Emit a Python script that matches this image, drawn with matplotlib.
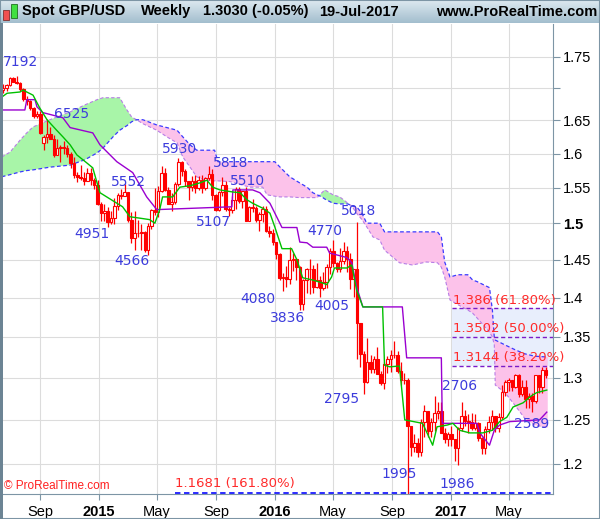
import datetime as dt
import numpy as np
import matplotlib
matplotlib.use('Agg')
import matplotlib.pyplot as plt
import matplotlib.dates as mdates
from matplotlib.patches import Rectangle

plt.rcParams['font.family'] = ['Liberation Sans', 'DejaVu Sans']

# weekly candles, GBP/USD, week of 16-Jun-2014 to week of 17-Jul-2017
first_week = dt.date(2014, 6, 16)

opens = [1.6975, 1.7010, 1.7045, 1.7155, 1.7105, 1.7080, 1.6985, 1.6830, 1.6795, 1.6695,
         1.6565, 1.6600, 1.6160, 1.6245, 1.6300, 1.6225, 1.5985, 1.6085, 1.6095, 1.6080,
         1.5995, 1.5860, 1.5685, 1.5655, 1.5640, 1.5600, 1.5715, 1.5620, 1.5545, 1.5275,
         1.5145, 1.5165, 1.5015, 1.5075, 1.5240, 1.5395, 1.5390, 1.5440, 1.5045, 1.4795,
         1.4870, 1.4865, 1.4880, 1.4630, 1.4965, 1.5185, 1.5155, 1.5450, 1.5715, 1.5465,
         1.5275, 1.5300, 1.5560, 1.5880, 1.5745, 1.5595, 1.5515, 1.5595, 1.5500, 1.5610,
         1.5495, 1.5640, 1.5700, 1.5395, 1.5185, 1.5440, 1.5540, 1.5195, 1.5185, 1.5320,
         1.5485, 1.5315, 1.5455, 1.5035, 1.5225, 1.5215, 1.5045, 1.5125, 1.5200, 1.4895,
         1.4865, 1.4735, 1.4575, 1.4255, 1.4265, 1.4250, 1.4500, 1.4505, 1.4400, 1.3920,
         1.4230, 1.4370, 1.4375, 1.4135, 1.4225, 1.4120, 1.4200, 1.4400, 1.4615, 1.4450,
         1.4375, 1.4490, 1.4620, 1.4515, 1.4250, 1.4370, 1.3680, 1.3285, 1.2950, 1.3195,
         1.3105, 1.3225, 1.3045, 1.2930, 1.3160, 1.3225, 1.3275, 1.3270, 1.3080, 1.2965,
         1.2975, 1.2430, 1.2195, 1.2230, 1.2130, 1.2480, 1.2600, 1.2375, 1.2480, 1.2575,
         1.2600, 1.2350, 1.2275, 1.2340, 1.2275, 1.2180, 1.2410, 1.2550, 1.2485, 1.2480,
         1.2410, 1.2460, 1.2290, 1.2175, 1.2400, 1.2475, 1.2550, 1.2410, 1.2535, 1.2830,
         1.2950, 1.2965, 1.2885, 1.3030, 1.2800, 1.2885, 1.2740, 1.2780, 1.2715, 1.3030,
         1.2885, 1.3090]
highs = [1.7063, 1.7065, 1.7180, 1.7178, 1.7192, 1.7095, 1.6995, 1.6880, 1.6810, 1.6710,
         1.6645, 1.6640, 1.6280, 1.6525, 1.6400, 1.6285, 1.6225, 1.6125, 1.6185, 1.6125,
         1.6025, 1.5945, 1.5735, 1.5825, 1.5735, 1.5785, 1.5785, 1.5645, 1.5620, 1.5295,
         1.5270, 1.5225, 1.5175, 1.5350, 1.5430, 1.5485, 1.5552, 1.5440, 1.5150, 1.5165,
         1.5050, 1.4995, 1.4890, 1.5000, 1.5200, 1.5500, 1.5525, 1.5815, 1.5790, 1.5510,
         1.5430, 1.5590, 1.5930, 1.5885, 1.5775, 1.5600, 1.5675, 1.5690, 1.5675, 1.5690,
         1.5655, 1.5818, 1.5770, 1.5405, 1.5455, 1.5660, 1.5595, 1.5225, 1.5385, 1.5510,
         1.5510, 1.5440, 1.5505, 1.5240, 1.5335, 1.5235, 1.5160, 1.5240, 1.5240, 1.4955,
         1.4915, 1.4745, 1.4590, 1.4325, 1.4415, 1.4670, 1.4590, 1.4525, 1.4410, 1.4245,
         1.4395, 1.4515, 1.4430, 1.4460, 1.4280, 1.4340, 1.4440, 1.4660, 1.4770, 1.4465,
         1.4660, 1.4735, 1.4680, 1.4590, 1.4380, 1.5018, 1.3680, 1.3325, 1.3480, 1.3275,
         1.3265, 1.3370, 1.3080, 1.3185, 1.3260, 1.3340, 1.3445, 1.3330, 1.3185, 1.3055,
         1.2990, 1.2435, 1.2340, 1.2295, 1.2510, 1.2670, 1.2600, 1.2520, 1.2775, 1.2705,
         1.2705, 1.2405, 1.2355, 1.2435, 1.2285, 1.2415, 1.2705, 1.2620, 1.2570, 1.2580,
         1.2570, 1.2470, 1.2305, 1.2430, 1.2540, 1.2615, 1.2550, 1.2580, 1.2905, 1.2965,
         1.2990, 1.2970, 1.3048, 1.3045, 1.2975, 1.2975, 1.2815, 1.2815, 1.3030, 1.3030,
         1.3125, 1.3125]
lows = [1.6925, 1.6960, 1.7030, 1.7095, 1.7065, 1.6960, 1.6800, 1.6735, 1.6660, 1.6535,
        1.6535, 1.6300, 1.6052, 1.6160, 1.6215, 1.5950, 1.5985, 1.5875, 1.5995, 1.5945,
        1.5790, 1.5645, 1.5590, 1.5620, 1.5540, 1.5600, 1.5540, 1.5485, 1.5255, 1.5035,
        1.5035, 1.4951, 1.4985, 1.4995, 1.5190, 1.5340, 1.5385, 1.5020, 1.4730, 1.4635,
        1.4810, 1.4635, 1.4600, 1.4566, 1.4925, 1.5115, 1.5090, 1.5445, 1.5450, 1.5265,
        1.5170, 1.5270, 1.5530, 1.5675, 1.5530, 1.5330, 1.5460, 1.5420, 1.5465, 1.5430,
        1.5470, 1.5615, 1.5330, 1.5165, 1.5165, 1.5380, 1.5175, 1.5107, 1.5140, 1.5200,
        1.5280, 1.5210, 1.5025, 1.5030, 1.5150, 1.5010, 1.4895, 1.5020, 1.4880, 1.4805,
        1.4700, 1.4515, 1.4235, 1.4080, 1.4145, 1.4180, 1.4350, 1.4235, 1.3836, 1.3840,
        1.4055, 1.4050, 1.4055, 1.4120, 1.4005, 1.4095, 1.4130, 1.4310, 1.4400, 1.4330,
        1.4335, 1.4440, 1.4330, 1.4115, 1.4010, 1.3229, 1.3122, 1.2798, 1.2930, 1.3055,
        1.3060, 1.3040, 1.2915, 1.2860, 1.3055, 1.3070, 1.3240, 1.3060, 1.2915, 1.2925,
        1.1491, 1.2085, 1.2130, 1.2080, 1.2085, 1.2300, 1.2300, 1.2300, 1.2375, 1.2505,
        1.2345, 1.2240, 1.2200, 1.2200, 1.2035, 1.1986, 1.2375, 1.2430, 1.2345, 1.2385,
        1.2380, 1.2255, 1.2110, 1.2110, 1.2350, 1.2380, 1.2365, 1.2365, 1.2515, 1.2775,
        1.2845, 1.2845, 1.2880, 1.2770, 1.2775, 1.2635, 1.2640, 1.2589, 1.2695, 1.2810,
        1.2810, 1.2995]
closes = [1.7010, 1.7045, 1.7155, 1.7105, 1.7080, 1.6985, 1.6830, 1.6795, 1.6695, 1.6565,
          1.6600, 1.6315, 1.6245, 1.6300, 1.6225, 1.5985, 1.6085, 1.6095, 1.6080, 1.5995,
          1.5860, 1.5685, 1.5655, 1.5640, 1.5600, 1.5715, 1.5620, 1.5545, 1.5275, 1.5145,
          1.5165, 1.5015, 1.5075, 1.5240, 1.5395, 1.5390, 1.5440, 1.5045, 1.4795, 1.4870,
          1.4865, 1.4880, 1.4630, 1.4965, 1.5185, 1.5155, 1.5450, 1.5715, 1.5465, 1.5275,
          1.5300, 1.5560, 1.5880, 1.5745, 1.5595, 1.5515, 1.5595, 1.5500, 1.5610, 1.5495,
          1.5640, 1.5700, 1.5395, 1.5185, 1.5440, 1.5540, 1.5195, 1.5185, 1.5320, 1.5485,
          1.5315, 1.5455, 1.5035, 1.5225, 1.5215, 1.5045, 1.5125, 1.5200, 1.4895, 1.4865,
          1.4735, 1.4575, 1.4255, 1.4265, 1.4250, 1.4500, 1.4505, 1.4400, 1.3920, 1.4230,
          1.4370, 1.4375, 1.4135, 1.4225, 1.4120, 1.4200, 1.4400, 1.4615, 1.4450, 1.4375,
          1.4490, 1.4620, 1.4515, 1.4250, 1.4370, 1.3680, 1.3285, 1.2950, 1.3195, 1.3105,
          1.3225, 1.3045, 1.2930, 1.3160, 1.3225, 1.3275, 1.3270, 1.3080, 1.2965, 1.2975,
          1.2430, 1.2195, 1.2230, 1.2130, 1.2480, 1.2600, 1.2375, 1.2480, 1.2575, 1.2600,
          1.2350, 1.2275, 1.2340, 1.2275, 1.2180, 1.2410, 1.2550, 1.2485, 1.2480, 1.2410,
          1.2460, 1.2290, 1.2175, 1.2400, 1.2475, 1.2550, 1.2410, 1.2535, 1.2830, 1.2950,
          1.2965, 1.2885, 1.3030, 1.2800, 1.2885, 1.2740, 1.2780, 1.2715, 1.3030, 1.2885,
          1.3090, 1.3030]

# Ichimoku lines
tenkan_dates = ['2014-06-13', '2014-06-24', '2014-07-21', '2014-07-27', '2014-08-17', '2014-08-31',
                '2014-09-15', '2014-10-05', '2014-10-18', '2014-11-02', '2014-11-16', '2014-12-07',
                '2014-12-19', '2014-12-28', '2015-01-03', '2015-01-17', '2015-02-19', '2015-03-06',
                '2015-03-27', '2015-04-16', '2015-04-27', '2015-05-07', '2015-05-13', '2015-06-03',
                '2015-06-18', '2015-07-09', '2015-07-29', '2015-08-13', '2015-08-25', '2015-09-09',
                '2015-10-06', '2015-10-21', '2015-11-04', '2015-11-16', '2015-12-07', '2015-12-22',
                '2016-01-01', '2016-01-16', '2016-02-05', '2016-02-16', '2016-02-28', '2016-03-20',
                '2016-04-10', '2016-04-18', '2016-04-28', '2016-05-04', '2016-05-30', '2016-06-09',
                '2016-06-19', '2016-07-02', '2016-08-12', '2016-08-16', '2016-08-27', '2016-09-16',
                '2016-09-27', '2016-11-03', '2016-11-14', '2016-11-24', '2016-12-03', '2016-12-24',
                '2017-01-05', '2017-01-19', '2017-02-09', '2017-03-08', '2017-03-28', '2017-04-12',
                '2017-04-27', '2017-05-10', '2017-05-31', '2017-06-14', '2017-06-28', '2017-07-19']
tenkan = [1.686, 1.692, 1.694, 1.697, 1.689, 1.669, 1.651, 1.635, 1.625, 1.613, 1.598, 1.586,
          1.579, 1.557, 1.543, 1.537, 1.523, 1.509, 1.507, 1.505, 1.500, 1.519, 1.537, 1.537,
          1.551, 1.553, 1.557, 1.561, 1.551, 1.547, 1.544, 1.543, 1.533, 1.528, 1.521, 1.514,
          1.495, 1.465, 1.465, 1.450, 1.426, 1.423, 1.419, 1.417, 1.427, 1.439, 1.439, 1.443,
          1.410, 1.388, 1.388, 1.315, 1.313, 1.314, 1.250, 1.246, 1.233, 1.221, 1.242, 1.244,
          1.246, 1.238, 1.235, 1.235, 1.238, 1.248, 1.253, 1.265, 1.270, 1.277, 1.282, 1.285]

kijun_dates = ['2014-06-13', '2014-07-31', '2014-08-04', '2014-08-21', '2014-08-25', '2014-09-06',
               '2014-09-27', '2014-10-18', '2014-11-02', '2014-12-19', '2015-01-03', '2015-02-07',
               '2015-03-12', '2015-04-10', '2015-05-01', '2015-10-04', '2015-10-06', '2015-11-16',
               '2015-12-01', '2015-12-22', '2016-01-16', '2016-02-16', '2016-02-22', '2016-03-08',
               '2016-03-20', '2016-04-18', '2016-04-24', '2016-05-30', '2016-06-09', '2016-06-19',
               '2016-07-02', '2016-09-22', '2016-10-01', '2016-12-12', '2016-12-14', '2017-02-24',
               '2017-03-02', '2017-03-22', '2017-04-01', '2017-04-12', '2017-05-03', '2017-07-04',
               '2017-07-19']
kijun = [1.666, 1.666, 1.682, 1.682, 1.671, 1.662, 1.658, 1.654, 1.639, 1.631, 1.613, 1.588,
         1.572, 1.537, 1.519, 1.523, 1.547, 1.547, 1.543, 1.528, 1.494, 1.494, 1.474, 1.473,
         1.467, 1.467, 1.459, 1.453, 1.446, 1.414, 1.388, 1.388, 1.324, 1.324, 1.246, 1.246,
         1.235, 1.221, 1.238, 1.244, 1.248, 1.250, 1.259]

cloud_dates = ['2014-06-13', '2014-06-30', '2014-07-21', '2014-08-04', '2014-08-17', '2014-09-21',
               '2014-11-02', '2014-12-03', '2014-12-28', '2015-01-09', '2015-01-30', '2015-02-13',
               '2015-02-28', '2015-03-10', '2015-03-20', '2015-04-02', '2015-05-01', '2015-05-22',
               '2015-06-12', '2015-06-24', '2015-07-09', '2015-07-23', '2015-08-09', '2015-08-29',
               '2015-09-05', '2015-09-30', '2015-11-10', '2015-12-07', '2015-12-16', '2016-01-01',
               '2016-01-12', '2016-02-01', '2016-02-22', '2016-03-08', '2016-03-20', '2016-03-29',
               '2016-04-08', '2016-04-14', '2016-05-01', '2016-05-15', '2016-06-01', '2016-06-09',
               '2016-06-19', '2016-06-30', '2016-07-10', '2016-07-23', '2016-08-06', '2016-08-16',
               '2016-09-16', '2016-10-13', '2016-11-11', '2016-12-04', '2016-12-12', '2016-12-19',
               '2016-12-30', '2017-01-15', '2017-02-05', '2017-02-15', '2017-02-24', '2017-03-22',
               '2017-03-28', '2017-04-01', '2017-04-03', '2017-04-23', '2017-05-14', '2017-06-03',
               '2017-06-24', '2017-07-21']
span_a = [1.595, 1.602, 1.620, 1.631, 1.640, 1.651, 1.663, 1.674, 1.682, 1.685, 1.685, 1.685,
          1.666, 1.655, 1.651, 1.645, 1.635, 1.625, 1.616, 1.595, 1.580, 1.566, 1.561, 1.560,
          1.560, 1.559, 1.551, 1.551, 1.540, 1.538, 1.537, 1.537, 1.536, 1.536, 1.536, 1.536,
          1.543, 1.547, 1.540, 1.537, 1.528, 1.524, 1.514, 1.505, 1.495, 1.481, 1.477, 1.463,
          1.446, 1.443, 1.447, 1.446, 1.440, 1.427, 1.397, 1.391, 1.384, 1.380, 1.374, 1.356,
          1.350, 1.340, 1.291, 1.282, 1.267, 1.252, 1.244, 1.241]
span_b = [1.566, 1.569, 1.573, 1.575, 1.576, 1.580, 1.583, 1.591, 1.601, 1.608, 1.625, 1.635,
          1.642, 1.648, 1.651, 1.651, 1.643, 1.639, 1.635, 1.625, 1.613, 1.605, 1.605, 1.605,
          1.588, 1.588, 1.588, 1.588, 1.588, 1.588, 1.580, 1.566, 1.557, 1.551, 1.543, 1.540,
          1.537, 1.534, 1.528, 1.527, 1.527, 1.524, 1.523, 1.514, 1.500, 1.500, 1.500, 1.488,
          1.488, 1.488, 1.488, 1.488, 1.481, 1.447, 1.427, 1.430, 1.430, 1.423, 1.421, 1.413,
          1.384, 1.349, 1.346, 1.340, 1.334, 1.329, 1.326, 1.325]

# swing high / low labels
swing_text = ['7192', '6525', '5930', '5818', '5552', '5510', '5107', '4951', '4566', '5018',
              '4770', '4080', '3836', '4005', '2795', '2706', '2589', '1995', '1986']
swing_dates = ['2014-07-21', '2014-11-04', '2015-06-18', '2015-10-02', '2015-03-04', '2015-11-06',
               '2015-08-27', '2014-12-17', '2015-03-10', '2016-06-24', '2016-04-14', '2015-11-27',
               '2016-01-28', '2016-04-28', '2016-05-19', '2017-01-19', '2017-06-18', '2016-09-16',
               '2017-01-13']
swing_values = [1.742, 1.660, 1.607, 1.586, 1.558, 1.560, 1.502, 1.485, 1.449, 1.517,
                1.489, 1.398, 1.374, 1.389, 1.275, 1.290, 1.245, 1.189, 1.178]

fib_levels = [1.386, 1.3502, 1.3144]
fib_text = ['1.386 (61.80%)', '1.3502 (50.00%)', '1.3144 (38.20%)']
fib_start = '2017-01-03'
ext_level = 1.1681
ext_text = '1.1681 (161.80%)'
ext_start = '2015-06-07'

yticks = [1.2, 1.25, 1.3, 1.35, 1.4, 1.45, 1.5, 1.55, 1.6, 1.65, 1.7, 1.75]
ytick_labels = ['1.2', '1.25', '1.3', '1.35', '1.4', '1.45', '1.5', '1.55', '1.6', '1.65', '', '1.75']
xtick_dates = ['2014-09-01', '2015-01-01', '2015-05-01', '2015-09-01', '2016-01-01',
               '2016-05-01', '2016-09-01', '2017-01-01', '2017-05-01']
xtick_labels = ['Sep', '2015', 'May', 'Sep', '2016', 'May', 'Sep', '2017', 'May']


def dnum(s):
    return mdates.date2num(dt.datetime.strptime(s, '%Y-%m-%d'))


fig = plt.figure(figsize=(6, 5.19), dpi=100)
ax = fig.add_axes([2 / 600, 25 / 519, 551 / 600, 470 / 519])
ax.set_yscale('log')
x_left = mdates.date2num(dt.datetime(2014, 6, 13, 12))
x_right = mdates.date2num(dt.datetime(2017, 7, 31, 22))
ax.set_xlim(x_left, x_right)
ax.set_ylim(1.167, 1.8042)

# fibonacci box
fx = dnum(fib_start)
ax.fill_between([fx, x_right], fib_levels[2], fib_levels[0], color='#e8eefc', lw=0, zorder=0.6)

# cloud
cx = np.array([dnum(d) for d in cloud_dates])
a = np.array(span_a)
b = np.array(span_b)
ax.fill_between(cx, a, b, where=a >= b, interpolate=True, color='#a8f5a8', lw=0, zorder=1)
ax.fill_between(cx, a, b, where=a <= b, interpolate=True, color='#fcc2ea', lw=0, zorder=1)
ax.plot(cx, a, color='#b77de6', lw=0.8, ls=(0, (3, 2)), zorder=1.2)
ax.plot(cx, b, color='#3a3aff', lw=0.9, ls=(0, (3, 2)), zorder=1.2)

# candles
wx = mdates.date2num([first_week + dt.timedelta(weeks=i) for i in range(len(closes))])
o = np.array(opens)
c = np.array(closes)
ax.vlines(wx, lows, highs, color='#ff0000', lw=0.9, zorder=2.5)
up = c >= o
bot = np.minimum(o, c)
hgt = np.maximum(np.abs(c - o), 0.0006)
ax.bar(wx, hgt, bottom=bot, width=5.2, color=np.where(up, 'white', '#ff0000'),
       edgecolor='#ff0000', lw=0.8, zorder=3)

# tenkan / kijun
ax.plot([dnum(d) for d in kijun_dates], kijun, color='#9a00d0', lw=1, zorder=3.5)
ax.plot([dnum(d) for d in tenkan_dates], tenkan, color='#00c000', lw=1, zorder=3.6)

# fib lines and labels
ax.hlines(fib_levels, fx, x_right, colors='#7a1cc8', linestyles=(0, (3, 2)), lw=1, zorder=4)
for lv, t in zip(fib_levels, fib_text):
    ax.annotate(t, (fx, lv), xytext=(1, 1), textcoords='offset points', ha='left', va='bottom',
                color='#ff2a2a', fontsize=9.5, family='DejaVu Sans', zorder=5)
ax.hlines(ext_level, dnum(ext_start), x_right, colors='#1a1aff', linestyles=(0, (3, 2)),
          lw=1.3, zorder=4, clip_on=False)
ax.annotate(ext_text, (dnum(ext_start), ext_level), xytext=(0, 2), textcoords='offset points',
            ha='left', va='bottom', color='#ff2a2a', fontsize=9.5, family='DejaVu Sans', zorder=5)

for t, d, v in zip(swing_text, swing_dates, swing_values):
    ax.text(dnum(d), v, t, ha='center', va='center', color='#3c3cdc', fontsize=10,
            family='DejaVu Sans', zorder=5)

# axes styling
ax.yaxis.tick_right()
ax.set_yticks(yticks)
ax.set_yticklabels(ytick_labels)
ax.yaxis.set_minor_locator(matplotlib.ticker.NullLocator())
ax.set_xticks([dnum(d) for d in xtick_dates])
ax.set_xticklabels(xtick_labels)
for lab in ax.get_xticklabels():
    if lab.get_text().isdigit():
        lab.set_fontweight('bold')
for lab in ax.get_yticklabels():
    if lab.get_text() == '1.5':
        lab.set_fontweight('bold')
ax.tick_params(axis='x', length=4, pad=4, labelsize=10.5, color='#7d95a5')
ax.tick_params(axis='y', length=5, pad=2, labelsize=10.5, color='#7d95a5')
ax.grid(True, color='#dcdcdc', lw=0.8)
ax.set_axisbelow(True)
for s in ['left', 'top']:
    ax.spines[s].set_visible(False)
for s in ['bottom', 'right']:
    ax.spines[s].set_color('#7d95a5')

ax.text(0.003, 0.005, '\u00a9 ProRealTime.com', transform=ax.transAxes, color='#ff2020',
        fontsize=8.5, ha='left', va='bottom')

# header bar
hax = fig.add_axes([0, 496 / 519, 1, 23 / 519])
grad = np.linspace(0, 1, 50).reshape(-1, 1)
cmap = matplotlib.colors.LinearSegmentedColormap.from_list('hdr', ['#dde9f0', '#a3bece'])
hax.imshow(grad, aspect='auto', cmap=cmap, extent=[0, 1, 0, 1], origin='upper')
hax.set_xlim(0, 1)
hax.set_ylim(0, 1)
hax.axis('off')
hax.add_patch(Rectangle((3 / 600, 0.15), 5.5 / 600, 0.42, facecolor='#f05050', edgecolor='#803030', lw=0.6))
hax.add_patch(Rectangle((11 / 600, 0.22), 6 / 600, 0.6, facecolor='#40e040', edgecolor='#207020', lw=0.6))
hdr_y = 0.5
hax.text(22 / 600, hdr_y, 'Spot GBP/USD', fontsize=10.5, fontweight='bold', va='center')
hax.text(141 / 600, hdr_y, 'Weekly', fontsize=10.5, fontweight='bold', va='center')
hax.text(203 / 600, hdr_y, '1.3030 (-0.05%)', fontsize=10.5, fontweight='bold', va='center')
hax.text(319 / 600, hdr_y, '19-Jul-2017', fontsize=10.5, fontweight='bold', va='center')
hax.text(597 / 600, hdr_y, 'www.ProRealTime.com', fontsize=10.5, fontweight='bold', va='center', ha='right')

# frame
fig.patches.append(Rectangle((0, 0), 1, 1, transform=fig.transFigure, fill=False,
                             edgecolor='#7d95a5', lw=1.5))
fig.patches.append(Rectangle((0, 0), 2.5 / 600, 496 / 519, transform=fig.transFigure,
                             facecolor='#6c8494', lw=0))

fig.savefig('out.png', dpi=100)
